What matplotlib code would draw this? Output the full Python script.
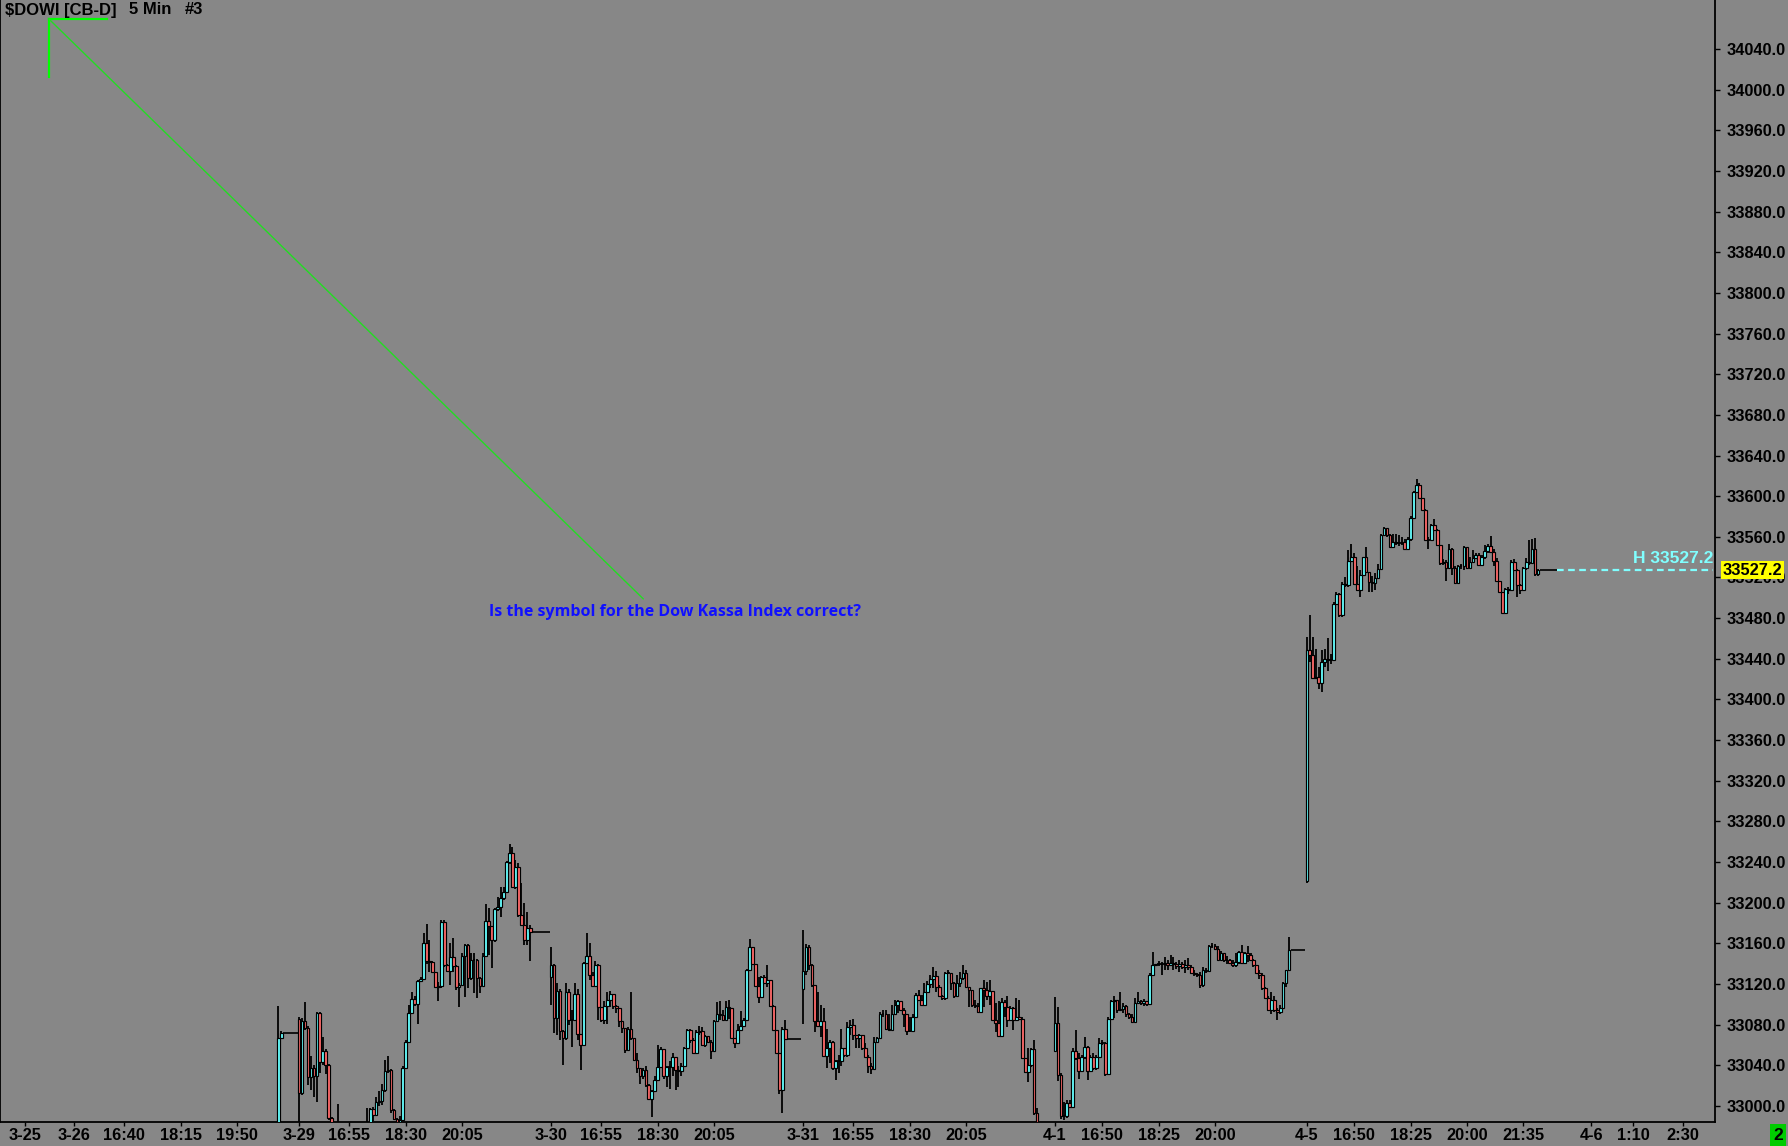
import matplotlib
matplotlib.use("Agg")
import matplotlib.pyplot as plt
import numpy as np

plt.rcParams['font.family'] = ['Liberation Sans', 'DejaVu Sans']

BG = '#878787'
UP = '#66FFFF'
DOWN = '#FF6A6A'

# 5 minute bars. Bar index 0 = 3-29 15:30, 85 slots per session.
# Each session: first bar index, first open, then closes / highs / lows, then flat after-hours bars.
s0326_start, s0326_open, s0326_flat = -7, 32970, 5
s0326_close = [33067, 33072]
s0326_high = [33098, 33074]
s0326_low = [32960, 33066]

s0329_start, s0329_open, s0329_flat = 0, 33086, 6
s0329_close = [33013, 33084, 33077, 33028, 33037, 33029, 33091, 33043, 33054, 33040,
               32988, 32975, 32970, 32972, 32968, 32962, 32958, 32962, 32966, 32960,
               32964, 32970, 32975, 32978, 32997, 32991, 33004, 33005, 33016, 33034,
               33035, 32996, 32987, 32983, 32986, 33037, 33063, 33091, 33105, 33100,
               33123, 33125, 33160, 33143, 33142, 33132, 33117, 33118, 33181, 33139,
               33133, 33147, 33138, 33117, 33119, 33148, 33158, 33126, 33144, 33144,
               33126, 33118, 33148, 33182, 33177, 33163, 33194, 33196, 33205, 33211,
               33240, 33249, 33215, 33235, 33188, 33178, 33163, 33175, 33171]
s0329_high = [33088, 33087, 33102, 33079, 33049, 33040, 33092, 33092, 33068, 33056,
              33041, 32989, 32980, 33002, 32980, 32975, 32970, 32972, 32976, 32972,
              32975, 32980, 32982, 32998, 32998, 32999, 33009, 33015, 33022, 33045,
              33049, 33036, 32997, 32988, 32990, 33039, 33065, 33099, 33112, 33108,
              33124, 33127, 33170, 33179, 33163, 33143, 33132, 33122, 33183, 33183,
              33140, 33160, 33165, 33139, 33121, 33150, 33159, 33159, 33150, 33150,
              33145, 33127, 33150, 33199, 33195, 33177, 33195, 33206, 33215, 33215,
              33241, 33258, 33255, 33242, 33239, 33219, 33200, 33191, 33178]
s0329_low = [32968, 33011, 33075, 33021, 33016, 33009, 33004, 33032, 33040, 33031,
             32986, 32968, 32960, 32962, 32958, 32955, 32950, 32952, 32956, 32952,
             32955, 32960, 32965, 32968, 32976, 32985, 32991, 33000, 33001, 33014,
             33032, 32993, 32986, 32978, 32980, 32985, 33036, 33062, 33090, 33098,
             33081, 33122, 33124, 33140, 33132, 33131, 33116, 33103, 33116, 33137,
             33132, 33119, 33132, 33114, 33097, 33118, 33107, 33116, 33124, 33111,
             33106, 33111, 33118, 33147, 33149, 33136, 33161, 33192, 33186, 33203,
             33210, 33238, 33214, 33213, 33186, 33177, 33158, 33158, 33143]

s0330_start, s0330_open, s0330_flat = 85, 33127, 5
s0330_close = [33139, 33087, 33113, 33074, 33067, 33112, 33085, 33085, 33110, 33071,
               33060, 33141, 33148, 33129, 33118, 33139, 33097, 33085, 33098, 33104,
               33110, 33098, 33096, 33084, 33077, 33055, 33076, 33067, 33045, 33037,
               33029, 33035, 33021, 33007, 33015, 33026, 33038, 33056, 33029, 33038,
               33038, 33048, 33035, 33034, 33039, 33057, 33075, 33065, 33052, 33073,
               33074, 33060, 33069, 33063, 33054, 33084, 33090, 33089, 33085, 33097,
               33096, 33067, 33062, 33075, 33079, 33085, 33134, 33156, 33140, 33118,
               33107, 33127, 33121, 33124, 33098, 33075, 33052, 33016, 33076, 33066]
s0330_high = [33156, 33140, 33121, 33115, 33075, 33121, 33115, 33094, 33121, 33115,
              33071, 33142, 33170, 33160, 33132, 33143, 33140, 33097, 33103, 33112,
              33113, 33110, 33099, 33096, 33084, 33077, 33078, 33112, 33067, 33052,
              33037, 33037, 33039, 33022, 33016, 33029, 33060, 33058, 33056, 33039,
              33044, 33052, 33048, 33039, 33042, 33058, 33076, 33076, 33067, 33075,
              33079, 33078, 33070, 33069, 33065, 33085, 33102, 33103, 33094, 33103,
              33104, 33096, 33067, 33081, 33093, 33087, 33135, 33164, 33156, 33140,
              33127, 33128, 33129, 33139, 33124, 33099, 33075, 33052, 33078, 33085]
s0330_low = [33099, 33072, 33070, 33065, 33040, 33065, 33080, 33058, 33085, 33065,
             33035, 33060, 33140, 33124, 33117, 33117, 33085, 33083, 33081, 33081,
             33097, 33095, 33091, 33078, 33072, 33052, 33054, 33065, 33044, 33032,
             33022, 33027, 33019, 33006, 32989, 33014, 33026, 33037, 33027, 33019,
             33017, 33029, 33016, 33019, 33029, 33038, 33056, 33062, 33051, 33052,
             33070, 33059, 33058, 33062, 33046, 33053, 33083, 33085, 33085, 33085,
             33086, 33066, 33057, 33061, 33075, 33078, 33085, 33134, 33139, 33117,
             33101, 33107, 33120, 33117, 33097, 33075, 33052, 33012, 32993, 33065]

s0331_start, s0331_open, s0331_flat = 170, 33115, 5
s0331_close = [33133, 33156, 33139, 33119, 33084, 33079, 33084, 33049, 33057, 33063,
               33037, 33044, 33044, 33057, 33050, 33078, 33080, 33070, 33067, 33070,
               33057, 33048, 33039, 33036, 33063, 33067, 33090, 33090, 33076, 33075,
               33090, 33099, 33103, 33094, 33090, 33074, 33074, 33088, 33109, 33104,
               33099, 33112, 33120, 33125, 33128, 33117, 33108, 33106, 33131, 33131,
               33121, 33108, 33121, 33126, 33131, 33117, 33114, 33099, 33098, 33092,
               33116, 33114, 33108, 33113, 33085, 33082, 33069, 33102, 33097, 33085,
               33096, 33085, 33088, 33086, 33047, 33033, 33040, 33056, 32993, 32979]
s0331_high = [33173, 33159, 33158, 33140, 33119, 33112, 33099, 33096, 33076, 33065,
              33064, 33045, 33050, 33076, 33057, 33083, 33085, 33086, 33070, 33071,
              33070, 33062, 33050, 33042, 33068, 33068, 33092, 33094, 33094, 33090,
              33099, 33104, 33104, 33103, 33096, 33090, 33088, 33090, 33111, 33114,
              33109, 33121, 33123, 33129, 33137, 33133, 33119, 33109, 33132, 33134,
              33131, 33122, 33129, 33132, 33139, 33134, 33117, 33114, 33104, 33101,
              33116, 33124, 33122, 33124, 33113, 33101, 33103, 33106, 33104, 33108,
              33098, 33097, 33106, 33104, 33088, 33047, 33057, 33057, 33065, 32998]
s0331_low = [33081, 33129, 33134, 33117, 33073, 33078, 33068, 33048, 33037, 33042,
             33035, 33026, 33032, 33039, 33048, 33048, 33070, 33065, 33057, 33057,
             33055, 33048, 33032, 33031, 33035, 33062, 33067, 33088, 33075, 33075,
             33075, 33089, 33091, 33093, 33078, 33070, 33073, 33073, 33088, 33103,
             33098, 33099, 33112, 33116, 33116, 33112, 33107, 33104, 33104, 33130,
             33114, 33106, 33107, 33117, 33124, 33117, 33097, 33097, 33096, 33091,
             33091, 33097, 33104, 33099, 33085, 33073, 33068, 33068, 33088, 33078,
             33085, 33075, 33085, 33085, 33046, 33032, 33024, 33038, 32991, 32965]

s0401_start, s0401_open, s0401_flat = 255, 33054, 5
s0401_close = [33082, 33030, 32990, 32990, 33003, 32999, 33054, 33047, 33034, 33048,
               33058, 33034, 33048, 33037, 33048, 33062, 33062, 33031, 33086, 33103,
               33104, 33094, 33095, 33098, 33090, 33088, 33083, 33101, 33103, 33101,
               33103, 33100, 33129, 33139, 33140, 33140, 33140, 33141, 33139, 33141,
               33140, 33138, 33140, 33137, 33139, 33137, 33131, 33130, 33129, 33119,
               33134, 33133, 33157, 33157, 33154, 33144, 33150, 33144, 33144, 33141,
               33139, 33142, 33151, 33141, 33150, 33149, 33144, 33139, 33131, 33129,
               33116, 33106, 33094, 33104, 33094, 33092, 33096, 33121, 33134, 33153]
s0401_high = [33107, 33097, 33032, 33004, 33006, 33006, 33057, 33075, 33052, 33050,
              33068, 33059, 33050, 33052, 33050, 33067, 33065, 33063, 33088, 33104,
              33108, 33104, 33112, 33101, 33099, 33091, 33090, 33106, 33112, 33104,
              33105, 33103, 33131, 33151, 33140, 33143, 33142, 33147, 33144, 33149,
              33147, 33142, 33144, 33142, 33144, 33146, 33139, 33134, 33131, 33132,
              33137, 33136, 33158, 33160, 33159, 33157, 33152, 33150, 33148, 33145,
              33144, 33150, 33152, 33158, 33151, 33157, 33150, 33145, 33139, 33134,
              33131, 33117, 33108, 33112, 33108, 33096, 33099, 33122, 33134, 33166]
s0401_low = [33053, 33025, 32987, 32986, 32988, 32998, 32998, 33045, 33027, 33033,
             33046, 33026, 33033, 33035, 33035, 33047, 33060, 33029, 33030, 33085,
             33087, 33091, 33093, 33091, 33088, 33086, 33082, 33082, 33100, 33099,
             33098, 33098, 33099, 33128, 33138, 33138, 33129, 33134, 33134, 33138,
             33134, 33135, 33132, 33135, 33131, 33134, 33130, 33128, 33127, 33116,
             33117, 33131, 33132, 33155, 33153, 33143, 33144, 33142, 33140, 33140,
             33137, 33137, 33140, 33140, 33140, 33142, 33143, 33137, 33131, 33125,
             33114, 33105, 33093, 33090, 33092, 33085, 33090, 33096, 33117, 33133]

s0405_start, s0405_open, s0405_flat = 340, 33221, 6
s0405_close = [33449, 33444, 33421, 33422, 33416, 33437, 33440, 33439, 33439, 33494,
               33504, 33483, 33514, 33513, 33536, 33540, 33514, 33508, 33522, 33540,
               33525, 33516, 33515, 33519, 33528, 33562, 33569, 33562, 33550, 33555,
               33554, 33554, 33555, 33548, 33558, 33579, 33604, 33611, 33598, 33586,
               33557, 33557, 33572, 33567, 33552, 33534, 33535, 33529, 33548, 33529,
               33515, 33531, 33531, 33550, 33529, 33535, 33539, 33542, 33532, 33540,
               33546, 33551, 33545, 33536, 33517, 33506, 33485, 33509, 33508, 33535,
               33527, 33513, 33508, 33529, 33535, 33534, 33548, 33523, 33527.2]
s0405_high = [33461, 33483, 33461, 33450, 33432, 33449, 33450, 33460, 33445, 33496,
              33506, 33505, 33516, 33520, 33547, 33553, 33544, 33531, 33527, 33540,
              33550, 33525, 33521, 33524, 33533, 33563, 33570, 33569, 33563, 33563,
              33563, 33562, 33560, 33558, 33560, 33580, 33605, 33617, 33613, 33598,
              33587, 33560, 33573, 33578, 33568, 33552, 33538, 33537, 33553, 33549,
              33531, 33532, 33533, 33551, 33550, 33540, 33547, 33544, 33544, 33542,
              33552, 33553, 33561, 33548, 33539, 33517, 33506, 33510, 33511, 33537,
              33538, 33528, 33514, 33530, 33539, 33557, 33558, 33559, 33528]
s0405_low = [33219, 33437, 33420, 33421, 33410, 33407, 33432, 33428, 33435, 33438,
             33493, 33481, 33481, 33511, 33511, 33536, 33513, 33507, 33501, 33521,
             33524, 33506, 33506, 33508, 33518, 33527, 33561, 33560, 33550, 33550,
             33552, 33551, 33552, 33547, 33548, 33556, 33578, 33603, 33597, 33586,
             33557, 33548, 33557, 33567, 33551, 33532, 33532, 33517, 33528, 33522,
             33514, 33514, 33528, 33527, 33528, 33528, 33534, 33538, 33531, 33531,
             33538, 33544, 33544, 33531, 33516, 33505, 33485, 33485, 33504, 33507,
             33527, 33501, 33504, 33507, 33527, 33532, 33533, 33521, 33521]

sessions = [
    (s0326_start, s0326_open, s0326_close, s0326_high, s0326_low, s0326_flat),
    (s0329_start, s0329_open, s0329_close, s0329_high, s0329_low, s0329_flat),
    (s0330_start, s0330_open, s0330_close, s0330_high, s0330_low, s0330_flat),
    (s0331_start, s0331_open, s0331_close, s0331_high, s0331_low, s0331_flat),
    (s0401_start, s0401_open, s0401_close, s0401_high, s0401_low, s0401_flat),
    (s0405_start, s0405_open, s0405_close, s0405_high, s0405_low, s0405_flat),
]

tick_pos = [-92.5, -76, -59, -40, -21, 0, 17, 36, 55, 85, 102, 121, 140,
            170, 187, 206, 225, 255, 271, 290, 309, 340, 356, 375, 394, 413,
            436, 450, 467]
tick_lab = ['3-25', '3-26', '16:40', '18:15', '19:50', '3-29', '16:55', '18:30', '20:05',
            '3-30', '16:55', '18:30', '20:05', '3-31', '16:55', '18:30', '20:05',
            '4-1', '16:50', '18:25', '20:00', '4-5', '16:50', '18:25', '20:00', '21:35',
            '4-6', '1:10', '2:30']

last_price = 33527.2
x_lo, x_hi = -100.9, 477.7
y_lo, y_hi = 32984.2, 34088.2

W, H = 1788, 1146
fig = plt.figure(figsize=(W / 100, H / 100), dpi=100, facecolor=BG)
ax = fig.add_axes([0, 24 / H, 1715 / W, 1122 / H], facecolor=BG)

for start, first_open, closes, highs, lows, n_flat in sessions:
    closes = np.array(closes, dtype=float)
    opens = np.concatenate([[first_open], closes[:-1]])
    x = start + np.arange(len(closes))
    ax.vlines(x, lows, highs, color='black', lw=1.3, zorder=2)
    body_lo = np.minimum(opens, closes)
    body_h = np.abs(closes - opens)
    cols = np.where(closes > opens, UP, DOWN)
    solid = body_h > 0
    ax.bar(x[solid], body_h[solid], bottom=body_lo[solid], width=0.9,
           color=cols[solid], edgecolor='black', linewidth=0.85, zorder=3)
    ax.hlines(closes[~solid], x[~solid] - 0.45, x[~solid] + 0.45,
              color='black', lw=1.3, zorder=3)
    # flat after-hours bars
    xf = start + len(closes) + np.arange(n_flat)
    if n_flat:
        ax.hlines(np.full(n_flat, closes[-1]), xf - 0.5, xf + 0.5,
                  color='black', lw=1.2, zorder=3)

# last price line
last_x = s0405_start + len(s0405_close) + s0405_flat - 0.5
ax.plot([last_x, x_hi - 0.6], [last_price, last_price], color='#7FFFFF',
        lw=1.6, ls=(0, (3, 2)), zorder=4)
ax.annotate('H 33527.2', xy=(1, last_price), xycoords=('axes fraction', 'data'),
            xytext=(-1.5, 8.5), textcoords='offset points', ha='right', va='center',
            color='#80FFFF', fontsize=12.5, fontweight='bold')
ax.annotate('33527.2', xy=(1, last_price), xycoords=('axes fraction', 'data'),
            xytext=(5.5, 0), textcoords='offset points', ha='left', va='center',
            color='black', fontsize=11.8, fontweight='bold', annotation_clip=False,
            bbox=dict(boxstyle='square,pad=0.08', fc='#FFFF00', ec='none'), zorder=10)

ax.set_xlim(x_lo, x_hi)
ax.set_ylim(y_lo, y_hi)

ax.set_yticks(np.arange(33000, 34041, 40))
ax.set_yticklabels(['%.1f' % v for v in np.arange(33000, 34041, 40)])
ax.yaxis.tick_right()
ax.tick_params(axis='y', direction='out', length=3.5, width=1, pad=4.5,
               labelsize=11.8, colors='black')
for lab in ax.get_yticklabels():
    lab.set_fontweight('bold')

ax.set_xticks(tick_pos)
ax.set_xticklabels(tick_lab, fontweight='bold')
ax.tick_params(axis='x', direction='out', length=3, width=1, pad=1.5,
               labelsize=11.8, colors='black')

for side in ['left', 'bottom', 'right']:
    ax.spines[side].set_color('black')
    ax.spines[side].set_linewidth(1.3)
ax.spines['top'].set_visible(False)

# green note marker and leader line
ax.plot([-84.4, -84.4], [34069.5, 34012.4], color='#00FF00', lw=1.6, zorder=5)
ax.plot([-84.4, -64.8], [34069.5, 34069.5], color='#00FF00', lw=1.6, zorder=5)
ax.plot([-84.4, 116.1], [34069.5, 33499.0], color='#22DD22', lw=1.0, zorder=5)
ax.text(126.7, 33486, 'Is the symbol for the Dow Kassa Index correct?',
        ha='center', va='center', color='#1010FF', fontsize=11.5,
        fontweight='bold', family=['Open Sans', 'DejaVu Sans'], zorder=6)

# title
title_kw = dict(ha='left', va='center', fontsize=12, fontweight='bold', color='black')
fig.text(5 / W, 1 - 10 / H, '$DOWI [CB-D]', **title_kw)
fig.text(129 / W, 1 - 10 / H, '5 Min', **title_kw)
fig.text(185 / W, 1 - 10 / H, '#3', **title_kw)

# corner box
fig.text(1778 / W, 11 / H, '2', ha='center', va='center', fontsize=12.5,
         fontweight='bold', color='black',
         bbox=dict(boxstyle='square,pad=0.2', fc='#00CC00', ec='none'))

fig.savefig('out.png', dpi=100, facecolor=BG)
